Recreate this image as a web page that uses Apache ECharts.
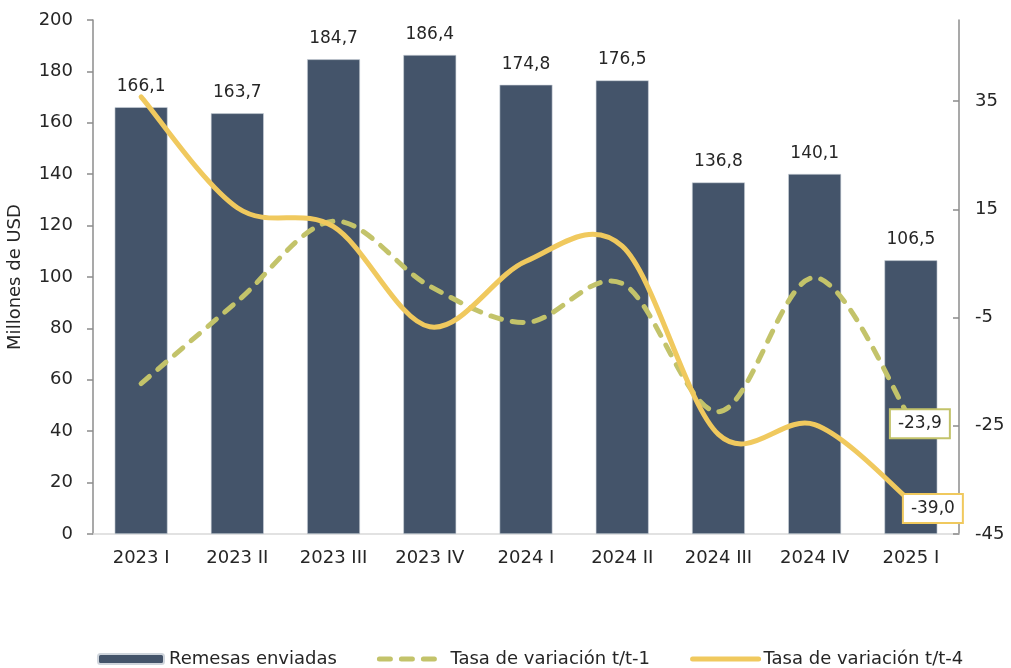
<!DOCTYPE html>
<html>
<head>
<meta charset="utf-8">
<script src="https://cdn.jsdelivr.net/npm/echarts@6/dist/echarts.min.js"></script>
<style>
  html, body { margin: 0; padding: 0; background: #fff; }
  #chart { width: 1011px; height: 668px; }
</style>
</head>
<body>
<div id="chart"></div>
<script>
const categories = ['2023 I', '2023 II', '2023 III', '2023 IV', '2024 I', '2024 II', '2024 III', '2024 IV', '2025 I']
const remesas = [166.1, 163.7, 184.7, 186.4, 174.8, 176.5, 136.8, 140.1, 106.5]
const tasaT1 = [-17.2, -2.0, 12.8, 0.8, -5.9, 1.3, -22.4, 2.4, -23.9]
const tasaT4 = [35.8, 15.3, 11.8, -6.7, 5.4, 8.2, -26.6, -24.8, -39.0]
const rightTicks = [-45, -25, -5, 15, 35]

const FONT = 'DejaVu Sans'
const TXT = '#262626'
const C_BAR = '#44546a'
const C_T1 = '#c3c36a'
const C_T4 = '#f0c95e'
const fmt = (v) => v.toFixed(1).replace('.', ',')

// smooth curve through the points like the spreadsheet does (catmull-rom)
function smoothPath(api, values) {
  const pts = values.map((v, i) => api.coord([i, v]))
  const n = pts.length
  let d = 'M' + pts[0][0] + ',' + pts[0][1]
  for (let i = 0; i < n - 1; i++) {
    const p0 = pts[Math.max(i - 1, 0)]
    const p1 = pts[i]
    const p2 = pts[i + 1]
    const p3 = pts[Math.min(i + 2, n - 1)]
    const c1x = p1[0] + (p2[0] - p0[0]) / 6
    const c1y = p1[1] + (p2[1] - p0[1]) / 6
    const c2x = p2[0] - (p3[0] - p1[0]) / 6
    const c2y = p2[1] - (p3[1] - p1[1]) / 6
    d += ' C' + c1x + ',' + c1y + ' ' + c2x + ',' + c2y + ' ' + p2[0] + ',' + p2[1]
  }
  return d
}

function curveSeries(values, color, dash, z) {
  return {
    type: 'custom',
    yAxisIndex: 1,
    silent: true,
    z: z,
    data: values.map((v, i) => [i, v]),
    encode: { x: 0, y: 1 },
    renderItem: (params, api) => {
      if (params.dataIndex !== 0) return
      return {
        type: 'path',
        shape: { pathData: smoothPath(api, values) },
        style: {
          fill: 'none',
          stroke: color,
          lineWidth: 5,
          lineDash: dash,
          lineCap: 'round',
          lineJoin: 'round',
        },
      }
    },
  }
}

// invisible line series: legend entry + boxed label at the last point
function labelSeries(name, values, color, dash, offset) {
  return {
    name: name,
    type: 'line',
    yAxisIndex: 1,
    data: values,
    symbol: 'none',
    itemStyle: { color: color },
    lineStyle: { color: color, width: 5, type: dash, cap: 'round', opacity: 0 },
    endLabel: {
      show: true,
      offset: offset,
      formatter: (p) => fmt(p.value),
      backgroundColor: '#fff',
      borderColor: color,
      borderWidth: 2,
      padding: [6, 7, 4, 7],
      color: TXT,
      fontSize: 17,
      fontFamily: FONT,
    },
    z: 6,
  }
}

const chart = echarts.init(document.getElementById('chart'))

let options = {
  animation: false,
  textStyle: { fontFamily: FONT },
  grid: { left: 93, right: 52, top: 20, bottom: 134, outerBoundsMode: 'none' },
  legend: {
    left: 92,
    top: 645,
    itemWidth: 66,
    itemHeight: 10,
    itemGap: 40,
    textStyle: { fontSize: 18, color: TXT, fontFamily: FONT },
    lineStyle: { width: 5, opacity: 1, cap: 'round' },
    data: [
      'Remesas enviadas',
      { name: 'Tasa de variación t/t-1', itemStyle: { opacity: 0 } },
      { name: 'Tasa de variación t/t-4', itemStyle: { opacity: 0 } },
    ],
  },
  xAxis: {
    type: 'category',
    data: categories,
    axisLine: { lineStyle: { color: '#d9d9d9', width: 1.5 } },
    axisTick: { inside: true, length: 6, lineStyle: { color: '#d9d9d9', width: 1.5 } },
    axisLabel: { color: TXT, fontSize: 18, margin: 15, fontFamily: FONT },
  },
  yAxis: [
    {
      type: 'value',
      min: 0,
      max: 200,
      interval: 20,
      name: 'Millones de USD',
      nameLocation: 'middle',
      nameGap: 69,
      nameTextStyle: { fontSize: 18, color: TXT, fontFamily: FONT },
      axisLine: { show: true, lineStyle: { color: '#8c8c8c', width: 1.5 } },
      axisTick: { show: true, length: 6, lineStyle: { color: '#8c8c8c', width: 1.5 } },
      axisLabel: { color: TXT, fontSize: 18, margin: 20, fontFamily: FONT },
      splitLine: { show: false },
    },
    {
      type: 'value',
      position: 'right',
      min: -45,
      max: 50,
      axisLine: { show: true, lineStyle: { color: '#8c8c8c', width: 1.5 } },
      axisTick: {
        show: true,
        inside: true,
        length: 6,
        customValues: rightTicks,
        lineStyle: { color: '#8c8c8c', width: 1.5 },
      },
      axisLabel: {
        color: TXT,
        fontSize: 18,
        margin: 16,
        fontFamily: FONT,
        customValues: rightTicks,
      },
      splitLine: { show: false },
    },
  ],
  series: [
    {
      name: 'Remesas enviadas',
      type: 'bar',
      data: remesas,
      barWidth: '55%',
      itemStyle: { color: C_BAR, borderColor: '#cfd5dc', borderWidth: 0.6 },
      label: {
        show: true,
        position: 'top',
        distance: 12,
        color: TXT,
        fontSize: 17,
        fontFamily: FONT,
        formatter: (p) => fmt(p.value),
      },
    },
    curveSeries(tasaT1, C_T1, [11, 11], 3),
    curveSeries(tasaT4, C_T4, null, 4),
    labelSeries('Tasa de variación t/t-1', tasaT1, C_T1, [11, 11], [-28, 4]),
    labelSeries('Tasa de variación t/t-4', tasaT4, C_T4, 'solid', [-15, 7]),
  ],
}

chart.setOption(options)
</script>
</body>
</html>
